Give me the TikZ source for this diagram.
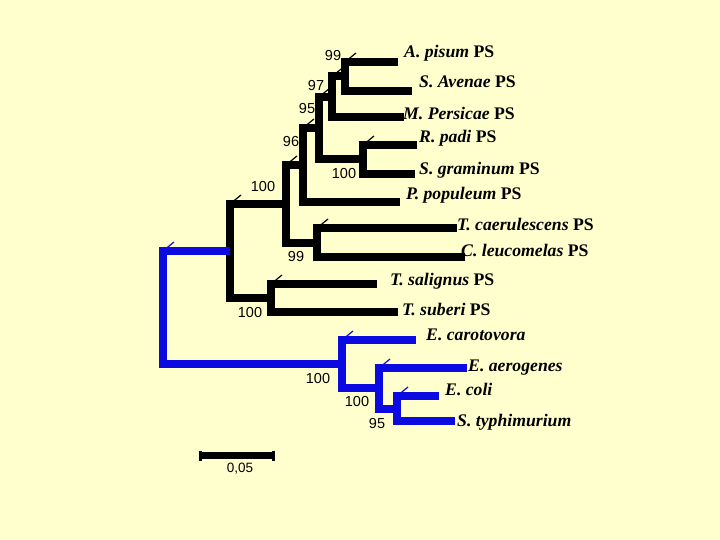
\documentclass[tikz,border=0pt]{standalone}
\usepackage{fontspec}
\setmainfont{Liberation Serif}
\newfontfamily\arialfont{Liberation Sans}
\definecolor{paper}{HTML}{FFFFCE}
\definecolor{treeblue}{RGB}{10,10,225}

\begin{document}
\begin{tikzpicture}
        [x=1pt,y=-1pt,
         branch/.style={line width=8pt},
         tick/.style={line width=1.2pt},
         bs/.style={inner sep=0pt,font=\arialfont\fontsize{14.5}{14.5}\selectfont},
         taxon/.style={anchor=base west,inner sep=0pt,font=\fontsize{17.7}{17.7}\selectfont\bfseries}]
        \fill[paper] (0,0) rectangle (720,540);
        \useasboundingbox (0,0) rectangle (720,540);

        % leaves
        \coordinate (apisum) at (398,62);
        \coordinate (savenae) at (412,91);
        \coordinate (mpersicae) at (404,117);
        \coordinate (rpadi) at (417,145);
        \coordinate (sgraminum) at (415,174);
        \coordinate (ppopuleum) at (400,202);
        \coordinate (tcaerul) at (457,228);
        \coordinate (cleuco) at (465,257);
        \coordinate (tsalig) at (377,284);
        \coordinate (tsuberi) at (398,312);
        \coordinate (ecaroto) at (416,340);
        \coordinate (eaerog) at (467,368);
        \coordinate (ecoli) at (439,396);
        \coordinate (styph) at (455,421);

        % inner nodes
        \coordinate (n1) at (345,76.5);
        \coordinate (n2) at (332,97);
        \coordinate (n4) at (363,159.5);
        \coordinate (n3) at (319,128);
        \coordinate (n5) at (303,165);
        \coordinate (n7) at (317,242.5);
        \coordinate (n6) at (286,204);
        \coordinate (n9) at (271,298);
        \coordinate (n8) at (230,251);
        \coordinate (n12) at (397,408.5);
        \coordinate (n11) at (379,388);
        \coordinate (n10) at (342,364);
        \coordinate (root) at (163,307.5);

        \foreach \a/\b in {n1/apisum,n1/savenae,n2/n1,n2/mpersicae,
                           n4/rpadi,n4/sgraminum,n3/n2,n3/n4,n5/n3,n5/ppopuleum,
                           n7/tcaerul,n7/cleuco,n6/n5,n6/n7,
                           n9/tsalig,n9/tsuberi,n8/n6,n8/n9}
        {\draw[branch] (\a) |- (\b);}

        \foreach \a/\b in {root/n8,root/n10,n10/ecaroto,n10/n11,
                           n11/eaerog,n11/n12,n12/ecoli,n12/styph}
        {\draw[branch,treeblue] (\a) |- (\b);}

        \foreach \a/\b in {n1/apisum,n2/n1,n3/n2,n4/rpadi,n5/n3,n6/n5,n7/tcaerul,n8/n6,n9/tsalig}
        {\draw[tick] (\a |- \b) -- ++(11,-9);}
        \foreach \a/\b in {root/n8,n10/ecaroto,n11/eaerog,n12/ecoli}
        {\draw[tick,treeblue] (\a |- \b) -- ++(11,-9);}

        \node[taxon] (lapisum) at (404,57.7) {\textit{A. pisum} PS};
        \node[taxon] (lsavenae) at (419,87.5) {\textit{S. Avenae} PS};
        \node[taxon] (lmpersicae) at (403,120) {\textit{M. Persicae} PS};
        \node[taxon] (lrpadi) at (419,143) {\textit{R. padi} PS};
        \node[taxon] (lsgraminum) at (419,175) {\textit{S. graminum} PS};
        \node[taxon] (lppopuleum) at (406,200) {\textit{P. populeum} PS};
        \node[taxon] (ltcaerul) at (457,230) {\textit{T. caerulescens} PS};
        \node[taxon] (lcleuco) at (461,256.7) {\textit{C. leucomelas} PS};
        \node[taxon] (ltsalig) at (390,285) {\textit{T. salignus} PS};
        \node[taxon] (ltsuberi) at (402,315) {\textit{T. suberi} PS};
        \node[taxon] (lecaroto) at (426,340) {\textit{E. carotovora}};
        \node[taxon] (leaerog) at (468,371.7) {\textit{E. aerogenes}};
        \node[taxon] (lecoli) at (445,395) {\textit{E. coli}};
        \node[taxon] (lstyph) at (457,426) {\textit{S. typhimurium}};

        \node[bs] (b1) at (333,56) {99};
        \node[bs] (b2) at (316,86) {97};
        \node[bs] (b3) at (307,109) {95};
        \node[bs] (b5) at (291,142) {96};
        \node[bs] (b6) at (263,187) {100};
        \node[bs] (b4) at (344,174) {100};
        \node[bs] (b7) at (296,257) {99};
        \node[bs] (b9) at (250,313) {100};
        \node[bs] (b10) at (318,379) {100};
        \node[bs] (b11) at (357,402) {100};
        \node[bs] (b12) at (377,424) {95};

        % scale bar
        \coordinate (sb0) at (200,455.5);
        \coordinate (sb1) at (273,455.5);
        \draw[line width=7pt] (sb0) -- (sb1);
        \foreach \e in {sb0,sb1}
        {\draw[line width=3pt] (\e) ++(0,-5) -- ++(0,10);}
        \node[inner sep=0pt,font=\arialfont\fontsize{13.5}{13.5}\selectfont] (sblabel) at (240,469) {0,05};
\end{tikzpicture}
\end{document}
